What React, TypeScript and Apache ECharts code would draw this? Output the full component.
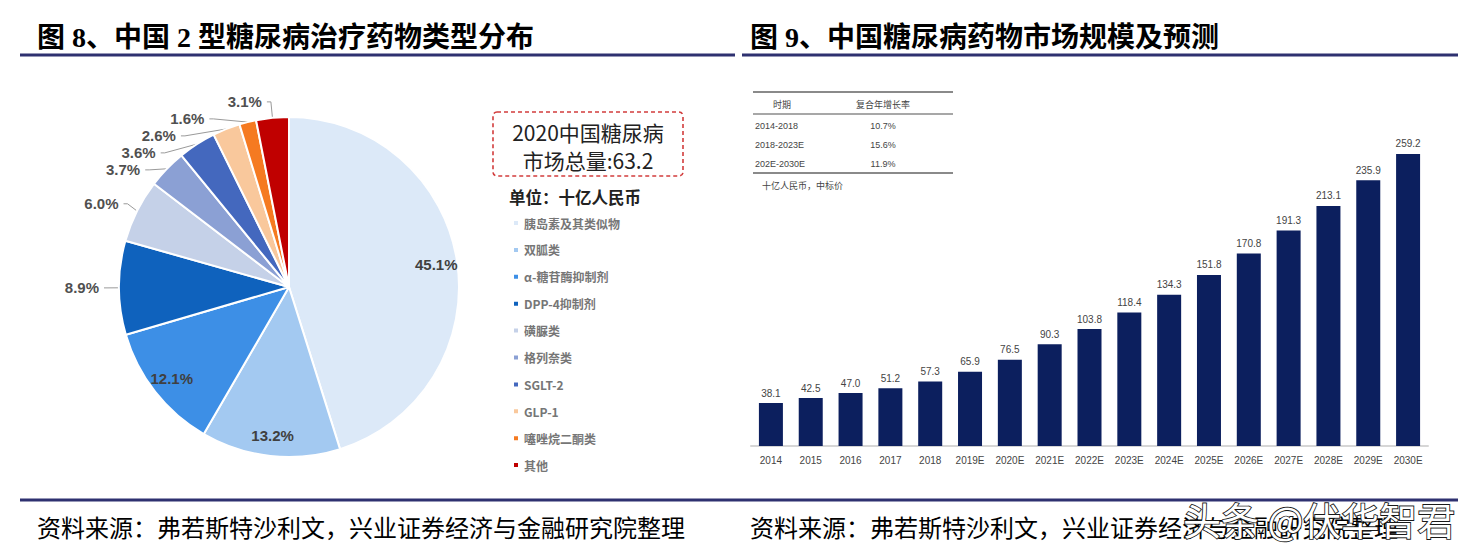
import React, { useEffect, useRef } from "react";
import * as echarts from "echarts";

// ---- Data ----
const drugTypes = [
  "胰岛素及其类似物",
  "双胍类",
  "α-糖苷酶抑制剂",
  "DPP-4抑制剂",
  "磺脲类",
  "格列奈类",
  "SGLT-2",
  "GLP-1",
  "噻唑烷二酮类",
  "其他",
];
const drugShares = [45.1, 13.2, 12.1, 8.9, 6.0, 3.7, 3.6, 2.6, 1.6, 3.1];
const insideLabelTypes = ["胰岛素及其类似物", "双胍类", "α-糖苷酶抑制剂"];

const years = [
  "2014", "2015", "2016", "2017", "2018", "2019E", "2020E", "2021E", "2022E",
  "2023E", "2024E", "2025E", "2026E", "2027E", "2028E", "2029E", "2030E",
];
const marketSize = [
  38.1, 42.5, 47.0, 51.2, 57.3, 65.9, 76.5, 90.3, 103.8, 118.4, 134.3, 151.8,
  170.8, 191.3, 213.1, 235.9, 259.2,
];

const cagrPeriods = ["2014-2018", "2018-2023E", "202E-2030E"];
const cagrRates = ["10.7%", "15.6%", "11.9%"];

// ---- Styles ----
const sliceColors = [
  "#dce9f8", "#a3c9f1", "#3d8fe6", "#0f62bd", "#c5d1e8",
  "#8ba0d4", "#4468be", "#f9c89c", "#f57a21", "#c00000",
];
const SERIF = "'Liberation Serif', 'Noto Sans CJK SC', serif";
const SANS = "'Noto Sans CJK SC', 'Liberation Sans', sans-serif";
const ARIAL = "'Liberation Sans', 'Noto Sans CJK SC', sans-serif";
const NAVY_LINE = "#2e3170";

export default function App() {
  const ref = useRef<HTMLDivElement>(null);

  useEffect(() => {
    document.body.style.margin = "0";
    if (!ref.current) return;
    const chart = echarts.init(ref.current, null, { renderer: "svg" });

    const pieData = drugTypes.map((name, i) => ({
      name,
      value: drugShares[i],
      itemStyle: { color: sliceColors[i] },
      label: { show: !insideLabelTypes.includes(name) },
      labelLine: { show: !insideLabelTypes.includes(name) },
    }));

    const overlayData = drugTypes.map((name, i) => ({
      name,
      value: drugShares[i],
      label: { show: insideLabelTypes.includes(name) },
    }));

    const tableX0 = 753;
    const tableX1 = 953;
    const rowYs = [126, 145, 164];

    const graphics: any[] = [
      // Titles
      {
        type: "text", left: 37, top: 23,
        style: { text: "图 8、中国 2 型糖尿病治疗药物类型分布", font: `bold 28px ${SERIF}`, fill: "#000" },
      },
      {
        type: "text", left: 750, top: 23,
        style: { text: "图 9、中国糖尿病药物市场规模及预测", font: `bold 28px ${SERIF}`, fill: "#000" },
      },
      // Title rules
      { type: "line", shape: { x1: 20, y1: 55, x2: 735, y2: 55 }, style: { stroke: NAVY_LINE, lineWidth: 3 } },
      { type: "line", shape: { x1: 742, y1: 55, x2: 1458, y2: 55 }, style: { stroke: NAVY_LINE, lineWidth: 3 } },
      // Bottom rule
      { type: "line", shape: { x1: 20, y1: 500, x2: 1458, y2: 500 }, style: { stroke: NAVY_LINE, lineWidth: 3 } },
      // Footers
      {
        type: "text", left: 37, top: 517,
        style: { text: "资料来源：弗若斯特沙利文，兴业证券经济与金融研究院整理", font: `24px ${SERIF}`, fill: "#000" },
      },
      {
        type: "text", left: 750, top: 517,
        style: { text: "资料来源：弗若斯特沙利文，兴业证券经济与金融研究院整理", font: `24px ${SERIF}`, fill: "#000" },
      },
      // Total box
      {
        type: "rect", shape: { x: 493, y: 112, width: 190, height: 64, r: 4 },
        style: { fill: "none", stroke: "#d23c3c", lineWidth: 1.6, lineDash: [4, 3] },
      },
      {
        type: "text", x: 588, y: 132,
        style: { text: "2020中国糖尿病", font: `21px ${SANS}`, fill: "#222", align: "center", verticalAlign: "middle" },
      },
      {
        type: "text", x: 588, y: 160,
        style: { text: "市场总量:63.2", font: `21px ${SANS}`, fill: "#222", align: "center", verticalAlign: "middle" },
      },
      {
        type: "text", x: 509, y: 197,
        style: { text: "单位：十亿人民币", font: `bold 16.5px ${SANS}`, fill: "#222", verticalAlign: "middle" },
      },
      // CAGR table
      { type: "line", shape: { x1: tableX0, y1: 92, x2: tableX1, y2: 92 }, style: { stroke: "#8a8a8a", lineWidth: 2 } },
      { type: "line", shape: { x1: tableX0, y1: 114, x2: tableX1, y2: 114 }, style: { stroke: "#8a8a8a", lineWidth: 1.5 } },
      { type: "line", shape: { x1: tableX0, y1: 173, x2: tableX1, y2: 173 }, style: { stroke: "#8a8a8a", lineWidth: 2 } },
      {
        type: "text", x: 782, y: 104,
        style: { text: "时期", font: `9px ${SANS}`, fill: "#444", align: "center", verticalAlign: "middle" },
      },
      {
        type: "text", x: 883, y: 104,
        style: { text: "复合年增长率", font: `9px ${SANS}`, fill: "#444", align: "center", verticalAlign: "middle" },
      },
      ...cagrPeriods.map((p, i) => ({
        type: "text", x: 755, y: rowYs[i],
        style: { text: p, font: `9px ${ARIAL}`, fill: "#444", verticalAlign: "middle" },
      })),
      ...cagrRates.map((r, i) => ({
        type: "text", x: 883, y: rowYs[i],
        style: { text: r, font: `9px ${ARIAL}`, fill: "#444", align: "center", verticalAlign: "middle" },
      })),
      {
        type: "text", x: 762, y: 185,
        style: { text: "十亿人民币，中标价", font: `9px ${SANS}`, fill: "#444", verticalAlign: "middle" },
      },
      // Watermark
      {
        type: "text", left: 1182, top: 499, z: 100,
        style: {
          text: "头条 @伏华智君", font: `38px ${SANS}`, fill: "#ffffff",
          stroke: "#1a1a1a", lineWidth: 1.8,
        },
      },
    ];

    chart.setOption({
      animation: false,
      backgroundColor: "#ffffff",
      legend: {
        data: drugTypes,
        orient: "vertical",
        left: 507,
        top: 211,
        icon: "rect",
        itemWidth: 6,
        itemHeight: 6,
        itemGap: 12.9,
        textStyle: { color: "#767676", fontSize: 12, fontWeight: "bold", fontFamily: SANS, lineHeight: 14 },
        selectedMode: false,
      },
      grid: { left: 751, right: 40, top: 108, bottom: 112 },
      xAxis: {
        type: "category",
        data: years,
        axisLine: { lineStyle: { color: "#d6d6d6", width: 2 } },
        axisTick: { show: false },
        axisLabel: { color: "#444", fontSize: 10, fontFamily: ARIAL, margin: 9, interval: 0 },
      },
      yAxis: { type: "value", min: 0, max: 300, show: false, splitLine: { show: false } },
      graphic: graphics,
      series: [
        {
          type: "pie",
          name: "share",
          center: [289, 287],
          radius: [0, 170],
          startAngle: 90,
          clockwise: true,
          data: pieData,
          itemStyle: { borderColor: "#ffffff", borderWidth: 2 },
          label: {
            position: "outside",
            formatter: (p: any) => `${p.value.toFixed(1)}%`,
            color: "#505050",
            fontSize: 15,
            fontWeight: "bold",
            fontFamily: ARIAL,
          },
          labelLine: { length: 16, length2: 4, lineStyle: { color: "#9a9a9a", width: 1 } },
          emphasis: { disabled: true },
        },
        {
          type: "pie",
          name: "labels",
          center: [289, 287],
          radius: [0, 292],
          startAngle: 90,
          clockwise: true,
          silent: true,
          legendHoverLink: false,
          data: overlayData,
          itemStyle: { color: "rgba(0,0,0,0)", borderWidth: 0 },
          label: {
            position: "inside",
            formatter: (p: any) => `${p.value.toFixed(1)}%`,
            color: "#404040",
            fontSize: 15,
            fontWeight: "bold",
            fontFamily: ARIAL,
          },
          labelLine: { show: false },
          emphasis: { disabled: true },
          z: 3,
        },
        {
          type: "bar",
          data: marketSize,
          barWidth: 24,
          itemStyle: { color: "#0c1f5e" },
          label: {
            show: true,
            position: "top",
            distance: 5,
            color: "#444",
            fontSize: 10,
            fontFamily: ARIAL,
            formatter: (p: any) => p.value.toFixed(1),
          },
          emphasis: { disabled: true },
        },
      ],
    });

    return () => chart.dispose();
  }, []);

  return <div ref={ref} style={{ width: 1468, height: 558 }} />;
}
